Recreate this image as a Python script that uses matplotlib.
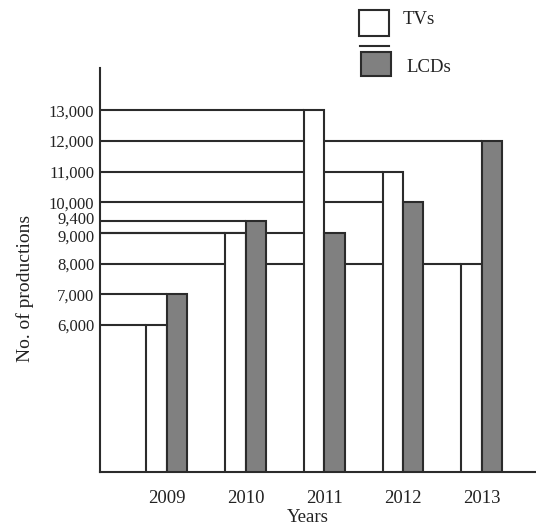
import matplotlib
matplotlib.use('Agg')
import matplotlib.pyplot as plt
import matplotlib.transforms as mtransforms
import numpy as np
from matplotlib.patches import Rectangle
from matplotlib.lines import Line2D

years = ['2009', '2010', '2011', '2012', '2013']
tvs = [6000, 9000, 13000, 11000, 8000]
lcds = [7000, 9400, 9000, 10000, 12000]
ytick_vals = [6000, 7000, 8000, 9000, 9400, 10000, 11000, 12000, 13000]

EDGE = '#2b2b2b'
GRAY = '#808080'
TEXT = '#222222'

plt.rcParams['font.family'] = ['Liberation Serif', 'DejaVu Serif']

fig = plt.figure(figsize=(5.36, 5.27), dpi=100)
ax = fig.add_axes([0.1866, 0.1044, 0.8134, 0.7666])

x = np.arange(len(years))
w = 0.26
x_left = -0.85
ax.set_xlim(x_left, 4.69)
ax.set_ylim(1200, 14380)

tv_x = x - w / 2
lcd_x = x + w / 2

# guide lines from the axis to each bar's left edge (hidden behind bars)
for xs, vals in ((tv_x, tvs), (lcd_x, lcds)):
    for xc, v in zip(xs, vals):
        ax.hlines(v, x_left, xc - w / 2, color=EDGE, linewidth=1.5, zorder=1)

ax.bar(tv_x, tvs, width=w, color='white', edgecolor=EDGE, linewidth=1.5, zorder=2)
ax.bar(lcd_x, lcds, width=w, color=GRAY, edgecolor=EDGE, linewidth=1.5, zorder=2)

ax.set_yticks(ytick_vals)
ax.set_yticklabels([f'{v:,}' for v in ytick_vals], fontsize=12, color=TEXT)
ax.set_xticks(x)
ax.set_xticklabels(years, fontsize=13.5, color=TEXT)
ax.tick_params(axis='y', length=0, pad=4)
ax.tick_params(axis='x', length=0, pad=13)

# 9,400 and 9,000 sit very close; nudge them apart a little
for lbl in ax.get_yticklabels():
    shift = {'9,400': 2.5, '9,000': -2.5}.get(lbl.get_text(), 0)
    if shift:
        lbl.set_transform(lbl.get_transform() +
                          mtransforms.ScaledTranslation(0, shift / 100, fig.dpi_scale_trans))

for s in ('top', 'right'):
    ax.spines[s].set_visible(False)
for s in ('left', 'bottom'):
    ax.spines[s].set_color(EDGE)
    ax.spines[s].set_linewidth(1.5)

fig.text(308 / 536, 1 - 518 / 527, 'Years', ha='center', va='center', fontsize=13.5, color=TEXT)
fig.text(25 / 536, 1 - 288 / 527, 'No. of productions', ha='center', va='center',
         rotation=90, fontsize=14, color=TEXT)

# legend drawn by hand
def px(xp, yp):
    return xp / 536, 1 - yp / 527

fig.patches.append(Rectangle(px(359, 36), 30 / 536, 26 / 527, transform=fig.transFigure,
                             facecolor='white', edgecolor=EDGE, linewidth=1.5))
fig.patches.append(Rectangle(px(361, 76), 30 / 536, 24 / 527, transform=fig.transFigure,
                             facecolor=GRAY, edgecolor=EDGE, linewidth=1.5))
fig.lines.append(Line2D([360 / 536, 389 / 536], [1 - 46 / 527, 1 - 46 / 527],
                        transform=fig.transFigure, color=EDGE, linewidth=1.5))
fig.text(*px(403, 20), 'TVs', ha='left', va='center', fontsize=13.5, color=TEXT)
fig.text(*px(406, 67), 'LCDs', ha='left', va='center', fontsize=13.5, color=TEXT)

fig.savefig('out.png', dpi=100, facecolor='white')
